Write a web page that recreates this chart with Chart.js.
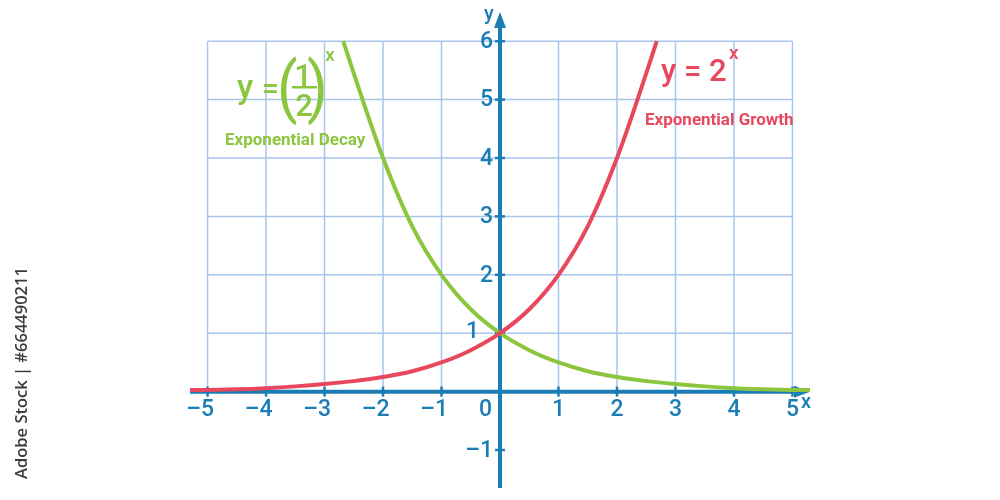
<!DOCTYPE html>
<html>
<head>
<meta charset="utf-8">
<script src="https://cdn.jsdelivr.net/npm/chart.js@4"></script>
<style>
  html, body { margin: 0; padding: 0; background: #fff; }
  canvas { display: block; }
</style>
</head>
<body>
<canvas id="canvas" width="1000" height="500"></canvas>
<script>
// values
const growthX = [-5.3, -5, -4.5, -4, -3.5, -3, -2.5, -2, -1.5, -1, -0.5, 0, 0.5, 1, 1.5, 2, 2.5, 2.68];
const growthY = [0.03, 0.03, 0.04, 0.06, 0.09, 0.13, 0.18, 0.25, 0.35, 0.5, 0.71, 1, 1.41, 2, 2.83, 4, 5.45, 6];
const decayX = [-2.68, -2.5, -2, -1.5, -1, -0.5, 0, 0.5, 1, 1.5, 2, 2.5, 3, 3.5, 4, 4.5, 5, 5.3];
const decayY = [6, 5.45, 4, 2.83, 2, 1.41, 1, 0.71, 0.5, 0.35, 0.25, 0.18, 0.13, 0.09, 0.06, 0.04, 0.03, 0.03];
const xTicks = [-5, -4, -3, -2, -1, 1, 2, 3, 4, 5];
const yTicks = [-1, 1, 2, 3, 4, 5, 6];
const gridX = [-5, -4, -3, -2, -1, 0, 1, 2, 3, 4, 5];
const gridY = [1, 2, 3, 4, 5, 6];

const axisColor = '#1b7db5';
const gridColor = '#a9c5ec';
const red = '#e8485e';
const green = '#8cc63f';
const labelFont = '500 23px Roboto';

function toPoints(xs, ys) {
    return xs.map((x, i) => ({ x: x, y: ys[i] }));
}

const gridAndAxes = {
    id: 'gridAndAxes',
    beforeDatasetsDraw(chart) {
        const ctx = chart.ctx;
        const sx = chart.scales.x;
        const sy = chart.scales.y;
        const x0 = sx.getPixelForValue(0);
        const y0 = sy.getPixelForValue(0);
        ctx.save();

        // grid only in the upper part
        ctx.strokeStyle = gridColor;
        ctx.lineWidth = 1.5;
        gridX.forEach(v => {
            const px = sx.getPixelForValue(v);
            ctx.beginPath();
            ctx.moveTo(px, sy.getPixelForValue(0));
            ctx.lineTo(px, sy.getPixelForValue(6));
            ctx.stroke();
        });
        gridY.forEach(v => {
            const py = sy.getPixelForValue(v);
            ctx.beginPath();
            ctx.moveTo(sx.getPixelForValue(-5), py);
            ctx.lineTo(sx.getPixelForValue(5), py);
            ctx.stroke();
        });

        // axes
        ctx.strokeStyle = axisColor;
        ctx.fillStyle = axisColor;
        ctx.lineWidth = 4;
        ctx.beginPath();
        ctx.moveTo(chart.chartArea.left, y0);
        ctx.lineTo(chart.chartArea.right - 10, y0);
        ctx.moveTo(x0, chart.chartArea.bottom);
        ctx.lineTo(x0, chart.chartArea.top + 10);
        ctx.stroke();

        // arrow heads
        ctx.beginPath();
        ctx.moveTo(chart.chartArea.right, y0);
        ctx.lineTo(chart.chartArea.right - 16, y0 - 6);
        ctx.lineTo(chart.chartArea.right - 16, y0 + 6);
        ctx.closePath();
        ctx.fill();
        ctx.beginPath();
        ctx.moveTo(x0, chart.chartArea.top);
        ctx.lineTo(x0 - 6, chart.chartArea.top + 16);
        ctx.lineTo(x0 + 6, chart.chartArea.top + 16);
        ctx.closePath();
        ctx.fill();

        // tick marks
        ctx.lineWidth = 2.5;
        xTicks.forEach(v => {
            const px = sx.getPixelForValue(v);
            ctx.beginPath();
            ctx.moveTo(px, y0 - 5);
            ctx.lineTo(px, y0 + 5);
            ctx.stroke();
        });
        yTicks.forEach(v => {
            const py = sy.getPixelForValue(v);
            ctx.beginPath();
            ctx.moveTo(x0 - 5, py);
            ctx.lineTo(x0 + 5, py);
            ctx.stroke();
        });
        ctx.restore();
    },
    afterDatasetsDraw(chart) {
        const ctx = chart.ctx;
        const sx = chart.scales.x;
        const sy = chart.scales.y;
        const x0 = sx.getPixelForValue(0);
        const y0 = sy.getPixelForValue(0);
        ctx.save();
        ctx.fillStyle = axisColor;
        ctx.font = labelFont;
        ctx.textBaseline = 'middle';

        // x labels: digit centred on the tick
        const digitW = ctx.measureText('0').width;
        ctx.textAlign = 'right';
        xTicks.forEach(v => {
            ctx.fillText(String(v).replace('-', '\u2013'), sx.getPixelForValue(v) + digitW / 2, y0 + 19);
        });
        ctx.fillText('0', x0 - 8, y0 + 19);

        yTicks.forEach(v => {
            const py = sy.getPixelForValue(v);
            if (v === 1) {
                ctx.fillText('1', x0 - 21, py - 1);
            } else {
                ctx.fillText(String(v).replace('-', '\u2013'), x0 - 7, py + 1);
            }
        });

        // axis names
        ctx.font = '500 20px Roboto';
        ctx.textAlign = 'center';
        ctx.fillText('y', x0 - 11, chart.chartArea.top + 3);
        ctx.fillText('x', chart.chartArea.right - 4, y0 + 11);

        // decay formula
        ctx.fillStyle = green;
        ctx.textAlign = 'left';
        ctx.textBaseline = 'alphabetic';
        ctx.font = '500 33px Roboto';
        ctx.fillText('y', 237, 98);
        ctx.font = '500 30px Roboto';
        ctx.fillText('=', 262, 98);
        ctx.save();
        ctx.font = '400 60px Roboto';
        ctx.scale(1, 1.1);
        ctx.fillText('(', 277, 100);
        ctx.fillText(')', 307, 100);
        ctx.restore();
        ctx.font = '500 31px Roboto';
        ctx.textAlign = 'center';
        ctx.fillText('1', 303, 86);
        ctx.fillText('2', 304, 116);
        ctx.fillRect(292, 86, 25, 2.5);
        ctx.font = '500 19px Roboto';
        ctx.fillText('x', 330, 61);
        ctx.font = 'bold 17px Roboto';
        ctx.textAlign = 'left';
        ctx.textBaseline = 'middle';
        ctx.fillText('Exponential Decay', 225, 141);

        // growth formula
        ctx.fillStyle = red;
        ctx.textBaseline = 'alphabetic';
        ctx.font = '500 31px Roboto';
        ctx.fillText('y = 2', 661, 81);
        ctx.font = '500 19px Roboto';
        ctx.fillText('x', 729, 59);
        ctx.font = 'bold 17px Roboto';
        ctx.textBaseline = 'middle';
        ctx.fillText('Exponential Growth', 645, 121);

        // side credit
        ctx.fillStyle = '#3c3c3c';
        ctx.font = '600 16.5px "Open Sans"';
        ctx.textAlign = 'center';
        ctx.translate(22, 373);
        ctx.rotate(-Math.PI / 2);
        ctx.fillText('Adobe Stock | #664490211', 0, 0);
        ctx.restore();
    }
};

const ctx = document.getElementById('canvas').getContext('2d');
const myChart = new Chart(ctx, {
    type: 'scatter',
    data: {
        datasets: [
            {
                label: 'y = 2^x',
                data: toPoints(growthX, growthY),
                borderColor: red,
                backgroundColor: red,
                borderWidth: 4,
                showLine: true,
                pointRadius: 0,
                cubicInterpolationMode: 'monotone',
                clip: false
            },
            {
                label: 'y = (1/2)^x',
                data: toPoints(decayX, decayY),
                borderColor: green,
                backgroundColor: green,
                borderWidth: 4,
                showLine: true,
                pointRadius: 0,
                cubicInterpolationMode: 'monotone',
                clip: false
            }
        ]
    },
    options: {
        responsive: false,
        animation: false,
        layout: { padding: { left: 190, right: 190, top: 12, bottom: 12 } },
        scales: {
            x: { type: 'linear', min: -5.3, max: 5.3, display: false },
            y: { type: 'linear', min: -1.65, max: 6.5, display: false }
        },
        plugins: {
            legend: { display: false },
            tooltip: { enabled: false }
        }
    },
    plugins: [gridAndAxes]
});
</script>
</body>
</html>
